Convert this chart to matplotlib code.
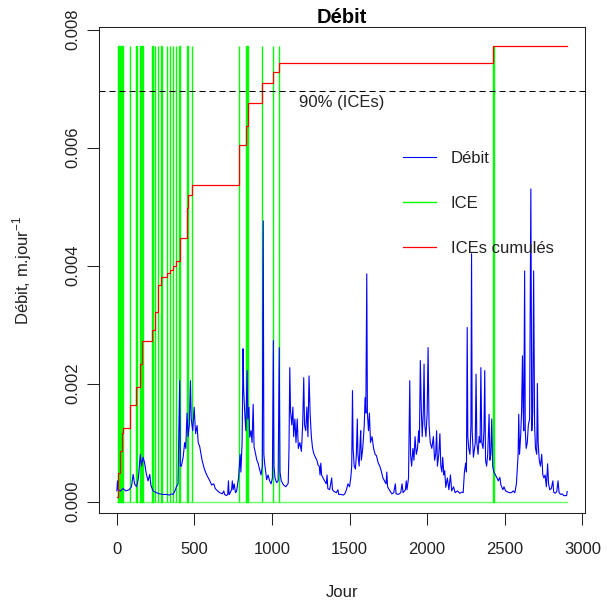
import matplotlib
matplotlib.use('Agg')
import numpy as np
import matplotlib.pyplot as plt
from matplotlib.lines import Line2D

plt.rcParams['font.family'] = ['Liberation Sans', 'DejaVu Sans']
plt.rcParams['mathtext.fontset'] = 'custom'
plt.rcParams['mathtext.rm'] = 'Liberation Sans'

# Débit journalier (jour, m/jour)
debit_days = [
    1, 5, 9, 25, 40, 60, 80, 95, 106, 115, 128, 140, 152, 160, 170, 180, 190, 202, 213, 220,
    234, 255, 277, 300, 320, 340, 355, 363, 375, 385, 395, 406, 410, 417, 428, 438, 445, 453,
    460, 468, 475, 480, 490, 499, 508, 518, 525, 535, 550, 565, 578, 590, 600, 612, 625, 635,
    650, 664, 680, 690, 695, 707, 715, 720, 724, 728, 740, 745, 750, 757, 765, 772, 785, 795,
    800, 808, 814, 818, 825, 832, 840, 845, 852, 857, 865, 872, 879, 885, 895, 903, 911, 920,
    930, 938, 944, 948, 953, 960, 966, 975, 985, 995, 1003, 1009, 1013, 1020, 1030, 1040, 1047,
    1052, 1060, 1075, 1090, 1105, 1110, 1115, 1120, 1128, 1135, 1140, 1148, 1155, 1163, 1170,
    1180, 1190, 1198, 1205, 1210, 1218, 1225, 1232, 1239, 1246, 1254, 1262, 1270, 1280, 1290,
    1297, 1305, 1310, 1315, 1320, 1335, 1350, 1355, 1360, 1372, 1385, 1390, 1400, 1415, 1425,
    1430, 1445, 1460, 1470, 1480, 1490, 1500, 1508, 1514, 1519, 1523, 1530, 1538, 1544, 1550,
    1554, 1562, 1568, 1572, 1576, 1585, 1595, 1600, 1605, 1611, 1615, 1622, 1628, 1635, 1645,
    1655, 1665, 1673, 1685, 1695, 1705, 1715, 1725, 1735, 1740, 1745, 1760, 1773, 1785, 1795,
    1800, 1815, 1830, 1838, 1845, 1860, 1865, 1870, 1880, 1888, 1893, 1900, 1908, 1915, 1922,
    1930, 1938, 1945, 1950, 1956, 1962, 1968, 1975, 1980, 1985, 1992, 2000, 2006, 2012, 2020,
    2030, 2040, 2048, 2055, 2061, 2066, 2075, 2082, 2088, 2095, 2100, 2108, 2113, 2120, 2130,
    2140, 2150, 2158, 2170, 2180, 2195, 2210, 2225, 2232, 2240, 2248, 2253, 2258, 2262, 2268,
    2276, 2282, 2286, 2290, 2298, 2305, 2310, 2315, 2320, 2328, 2335, 2341, 2346, 2352, 2360,
    2366, 2371, 2376, 2383, 2390, 2399, 2404, 2410, 2416, 2422, 2430, 2440, 2450, 2458, 2468,
    2475, 2488, 2495, 2505, 2520, 2530, 2543, 2555, 2565, 2575, 2582, 2586, 2590, 2595, 2602,
    2608, 2614, 2618, 2622, 2628, 2632, 2638, 2645, 2652, 2660, 2668, 2674, 2680, 2686, 2692,
    2698, 2706, 2710, 2715, 2722, 2730, 2738, 2745, 2752, 2760, 2768, 2776, 2782, 2790, 2800,
    2810, 2815, 2825, 2835, 2843, 2850, 2860, 2870, 2880, 2892, 2898, 2902,
]
debit_vals = [
    0.00018, 0.00035, 0.00020, 0.00018, 0.00022, 0.00018, 0.00020, 0.00025, 0.00046, 0.00030,
    0.00025, 0.00040, 0.00080, 0.00060, 0.00075, 0.00065, 0.00048, 0.00035, 0.00046, 0.00028,
    0.00018, 0.00015, 0.00013, 0.00012, 0.00012, 0.00011, 0.00013, 0.00012, 0.00018, 0.00025,
    0.00030, 0.00205, 0.00060, 0.00060, 0.00075, 0.00100, 0.00090, 0.00150, 0.00110, 0.00130,
    0.00205, 0.00140, 0.00120, 0.00160, 0.00115, 0.00129, 0.00100, 0.00093, 0.00070, 0.00055,
    0.00046, 0.00040, 0.00035, 0.00028, 0.00030, 0.00022, 0.00018, 0.00015, 0.00013, 0.00018,
    0.00012, 0.00010, 0.00012, 0.00035, 0.00012, 0.00013, 0.00020, 0.00035, 0.00020, 0.00030,
    0.00015, 0.00017, 0.00040, 0.00080, 0.00050, 0.00100, 0.00259, 0.00190, 0.00150, 0.00120,
    0.00222, 0.00140, 0.00160, 0.00109, 0.00120, 0.00100, 0.00165, 0.00093, 0.00080, 0.00070,
    0.00065, 0.00055, 0.00045, 0.00060, 0.00476, 0.00080, 0.00065, 0.00050, 0.00037, 0.00045,
    0.00035, 0.00030, 0.00040, 0.00273, 0.00060, 0.00040, 0.00032, 0.00035, 0.00261, 0.00050,
    0.00035, 0.00028, 0.00025, 0.00031, 0.00090, 0.00227, 0.00153, 0.00130, 0.00160, 0.00110,
    0.00140, 0.00100, 0.00140, 0.00090, 0.00100, 0.00085, 0.00130, 0.00210, 0.00130, 0.00120,
    0.00160, 0.00110, 0.00213, 0.00150, 0.00110, 0.00090, 0.00081, 0.00075, 0.00070, 0.00062,
    0.00060, 0.00045, 0.00065, 0.00045, 0.00037, 0.00030, 0.00045, 0.00022, 0.00020, 0.00040,
    0.00020, 0.00017, 0.00015, 0.00020, 0.00012, 0.00012, 0.00011, 0.00013, 0.00020, 0.00030,
    0.00025, 0.00040, 0.00060, 0.00188, 0.00090, 0.00060, 0.00055, 0.00080, 0.00140, 0.00080,
    0.00060, 0.00100, 0.00120, 0.00070, 0.00090, 0.00130, 0.00176, 0.00150, 0.00386, 0.00150,
    0.00120, 0.00150, 0.00100, 0.00110, 0.00090, 0.00080, 0.00078, 0.00065, 0.00060, 0.00051,
    0.00040, 0.00035, 0.00030, 0.00050, 0.00025, 0.00018, 0.00013, 0.00015, 0.00030, 0.00013,
    0.00012, 0.00015, 0.00030, 0.00015, 0.00020, 0.00035, 0.00020, 0.00040, 0.00205, 0.00080,
    0.00060, 0.00090, 0.00070, 0.00110, 0.00080, 0.00090, 0.00120, 0.00100, 0.00239, 0.00160,
    0.00110, 0.00150, 0.00233, 0.00130, 0.00110, 0.00150, 0.00261, 0.00130, 0.00100, 0.00090,
    0.00110, 0.00070, 0.00080, 0.00120, 0.00060, 0.00080, 0.00115, 0.00060, 0.00050, 0.00075,
    0.00045, 0.00052, 0.00024, 0.00040, 0.00020, 0.00045, 0.00018, 0.00025, 0.00015, 0.00018,
    0.00014, 0.00016, 0.00015, 0.00050, 0.00065, 0.00050, 0.00295, 0.00110, 0.00090, 0.00080,
    0.00130, 0.00420, 0.00120, 0.00075, 0.00090, 0.00100, 0.00216, 0.00100, 0.00080, 0.00110,
    0.00100, 0.00227, 0.00100, 0.00090, 0.00120, 0.00222, 0.00070, 0.00060, 0.00080, 0.00148,
    0.00070, 0.00080, 0.00140, 0.00060, 0.00050, 0.00045, 0.00040, 0.00035, 0.00041, 0.00028,
    0.00020, 0.00025, 0.00018, 0.00016, 0.00015, 0.00015, 0.00018, 0.00015, 0.00030, 0.00060,
    0.00080, 0.00148, 0.00080, 0.00110, 0.00150, 0.00247, 0.00160, 0.00120, 0.00391, 0.00120,
    0.00090, 0.00100, 0.00130, 0.00140, 0.00530, 0.00120, 0.00150, 0.00391, 0.00130, 0.00090,
    0.00080, 0.00200, 0.00100, 0.00070, 0.00060, 0.00080, 0.00045, 0.00040, 0.00045, 0.00025,
    0.00064, 0.00030, 0.00020, 0.00022, 0.00035, 0.00016, 0.00014, 0.00017, 0.00035, 0.00015,
    0.00012, 0.00013, 0.00010, 0.00010, 0.00010, 0.00017,
]

# Périodes ICE (jour début, jour fin)
ice_start = [11, 87, 123, 151, 226, 247, 267, 288, 327, 343, 364, 382, 402, 451, 482,
             785, 832, 939, 1008, 1047, 2427]
ice_end = [38, 87, 130, 167, 231, 247, 267, 292, 327, 343, 364, 382, 407, 461, 482,
           790, 846, 939, 1008, 1047, 2428]
ice_top = 0.00773

# ICEs cumulés (marches)
cum_days = [0, 11, 21, 32, 38, 87, 123, 151, 164, 226, 247, 267, 288, 327, 343, 364, 382,
            405, 456, 461, 482, 787, 833, 846, 939, 1008, 1047, 2427, 2902]
cum_vals = [0.00008, 0.00048, 0.00085, 0.00116, 0.00124, 0.00163, 0.00195, 0.00234, 0.00272,
            0.00291, 0.00322, 0.00367, 0.00380, 0.00387, 0.00393, 0.00400, 0.00407, 0.00446,
            0.00497, 0.00520, 0.00537, 0.00605, 0.00636, 0.00676, 0.00709, 0.00729, 0.00743,
            0.00773, 0.00773]

fig = plt.figure(figsize=(6.07, 6.10), dpi=100)
ax = fig.add_axes([0.1636, 0.1585, 0.8002, 0.7977])

# Débit
ax.plot(debit_days, debit_vals, color='#0000ff', lw=0.8)

# ICE
ax.plot([debit_days[0], debit_days[-1]], [0, 0], color='#00ff00', lw=1.0, alpha=0.6)
widths = np.array(ice_end) - np.array(ice_start)
ax.bar(ice_start, ice_top, width=widths, bottom=0, align='edge',
       color='#00ff00', edgecolor='#00ff00', linewidth=1.0)

# ICEs cumulés
ax.step(cum_days, cum_vals, where='post', color='#ff0000', lw=0.9)

# seuil 90 %
ax.axhline(0.9 * ice_top, color='black', lw=0.75, ls=(0, (5.8, 3.8)))
ax.text(1450, 0.00676, '90% (ICEs)', ha='center', va='center', fontsize=12, color='#222222')

ax.set_xlim(-112, 3017)
ax.set_ylim(-0.0002, 0.00805)
ax.set_xticks(range(0, 3001, 500))
yt = [0, 0.002, 0.004, 0.006, 0.008]
ax.set_yticks(yt)
ax.set_yticklabels([f'{v:.3f}' for v in yt], rotation=90, va='center')
ax.tick_params(direction='out', length=8.6, width=0.75, labelsize=12, colors='#222222')
ax.tick_params(axis='x', pad=12)
ax.tick_params(axis='y', pad=5)
for s in ax.spines.values():
    s.set_linewidth(0.75)
    s.set_color('#222222')

ax.set_title('Débit', fontweight='bold', fontsize=14.5, pad=3)
ax.set_xlabel('Jour', fontsize=12, color='#222222')
ax.xaxis.set_label_coords(0.5, -0.147)
ax.set_ylabel('Débit, m.jour$^{-1}$', fontsize=12, color='#222222')
ax.yaxis.set_label_coords(-0.135, 0.5)

handles = [Line2D([], [], color='#0000ff', lw=0.8),
           Line2D([], [], color='#00ff00', lw=1.0),
           Line2D([], [], color='#ff0000', lw=0.9)]
ax.legend(handles, ['Débit', 'ICE', 'ICEs cumulés'], loc='upper left',
          bbox_to_anchor=(403 / 607, 1 - 151 / 610), bbox_transform=fig.transFigure,
          frameon=False, fontsize=12, handlelength=2.0, handletextpad=0.88,
          labelspacing=1.8, borderpad=0, borderaxespad=0, labelcolor='#222222')

fig.savefig('out.png', dpi=100)
